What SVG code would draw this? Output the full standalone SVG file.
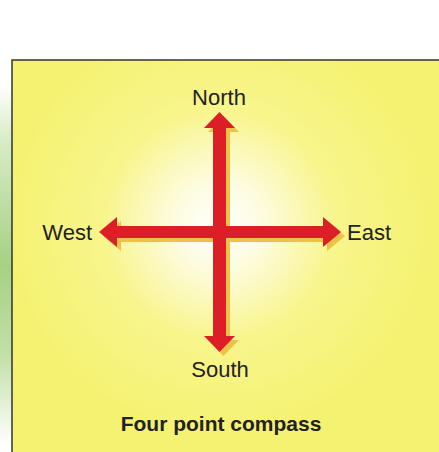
<svg xmlns="http://www.w3.org/2000/svg" width="439" height="452" viewBox="0 0 439 452">
<defs>
<radialGradient id="glow" cx="219" cy="225" r="210" gradientUnits="userSpaceOnUse">
<stop offset="0" stop-color="#ffffff"/>
<stop offset="0.2" stop-color="#fdfce2"/>
<stop offset="0.55" stop-color="#f8f58c"/>
<stop offset="1" stop-color="#f5f272"/>
</radialGradient>
<linearGradient id="green" x1="0" y1="85" x2="0" y2="445" gradientUnits="userSpaceOnUse">
<stop offset="0" stop-color="#ffffff"/>
<stop offset="0.15" stop-color="#d9ebc8"/>
<stop offset="0.5" stop-color="#a6d184"/>
<stop offset="0.75" stop-color="#c2dfa8"/>
<stop offset="1" stop-color="#ffffff"/>
</linearGradient>
<style>
.lbl{font-family:"Liberation Sans",Arial,sans-serif;font-size:22px;fill:#222;}
.ttl{font-family:"Liberation Sans",Arial,sans-serif;font-size:21px;font-weight:bold;fill:#222;}
.shadow{fill:#eec24a;}
.arrow{fill:#dc1f26;}
</style>
</defs>
<rect x="0" y="0" width="439" height="452" fill="#ffffff"/>
<rect x="0" y="85" width="12" height="360" fill="url(#green)"/>
<rect x="12" y="60" width="430" height="395" fill="url(#glow)" stroke="#333" stroke-width="1.5"/>
<g id="connectors">
<g transform="translate(4,4)" class="shadow">
<polygon points="213,128 204,128 219.5,112 235,128 226,128 226,226 323,226 323,217 341,232 323,247 323,238 226,238 226,336 235,336 219.5,352 204,336 213,336 213,238 117,238 117,247 99,232 117,217 117,226 213,226"/>
</g>
<polygon class="arrow" points="213,128 204,128 219.5,112 235,128 226,128 226,226 323,226 323,217 341,232 323,247 323,238 226,238 226,336 235,336 219.5,352 204,336 213,336 213,238 117,238 117,247 99,232 117,217 117,226 213,226"/>
</g>
<g id="north"><text class="lbl" x="219" y="105" text-anchor="middle">North</text></g>
<g id="south"><text class="lbl" x="220" y="377" text-anchor="middle">South</text></g>
<g id="west"><text class="lbl" x="92" y="240" text-anchor="end">West</text></g>
<g id="east"><text class="lbl" x="347" y="240">East</text></g>
<g id="title"><text class="ttl" x="221" y="431" text-anchor="middle">Four point compass</text></g>
</svg>
